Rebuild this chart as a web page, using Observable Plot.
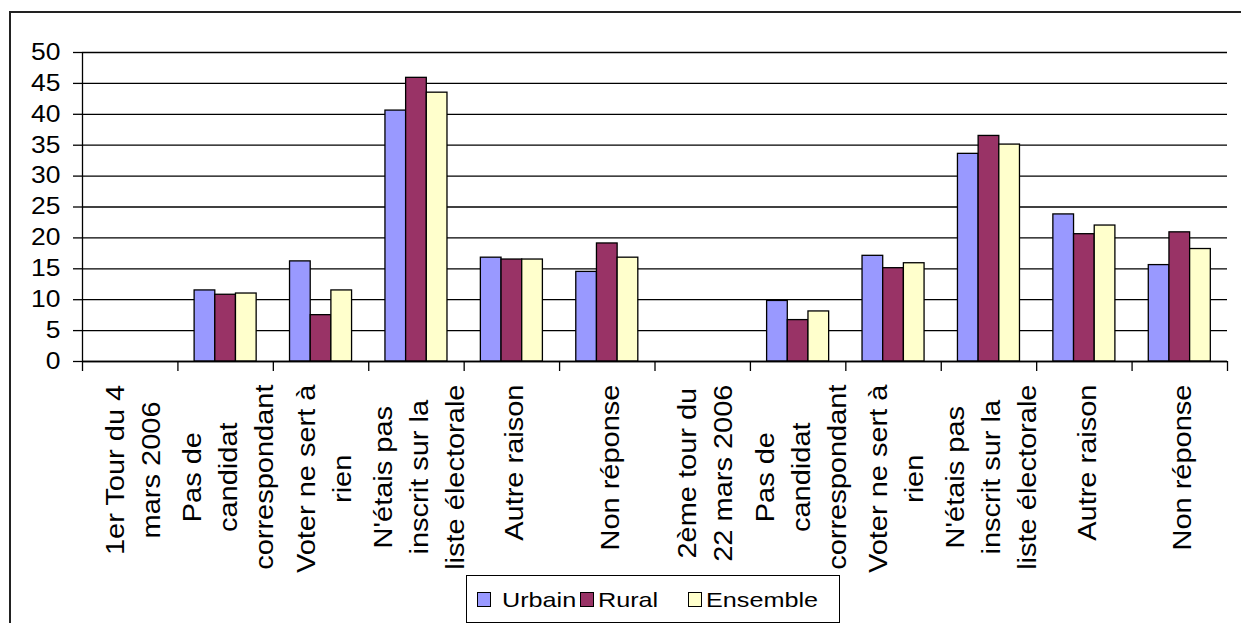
<!DOCTYPE html>
<html><head><meta charset="utf-8">
<script src="https://cdn.jsdelivr.net/npm/d3@7"></script>
<script src="https://cdn.jsdelivr.net/npm/@observablehq/plot@0.6"></script>
<style>
html,body{margin:0;padding:0;background:#fff;overflow:hidden}
#wrap{position:relative;width:1241px;height:623px;overflow:hidden;font-family:'Liberation Sans',Arial,sans-serif;background:#fff}
#frame{position:absolute;left:9px;top:11px;width:1400px;height:800px;border-left:2px solid #222;border-top:2px solid #222}
#chart{position:absolute;left:0;top:0}
#legend{position:absolute;left:466px;top:575px;width:374px;height:48px;border:1.5px solid #000;box-sizing:border-box;background:#fff}
.sw{position:absolute;width:14px;height:15px;border:1.5px solid #000;box-sizing:border-box}
.lt{position:absolute;font-size:21px;line-height:21px;color:#000;transform:scaleX(1.2);transform-origin:0 50%;white-space:nowrap}
</style></head><body>
<div id="wrap"><div id="frame"></div><div id="chart"></div><div id="legend"></div></div>
<script>
const categories = [
  "1er Tour du 4\nmars 2006",
  "Pas de\ncandidat\ncorrespondant",
  "Voter ne sert à\nrien",
  "N'étais pas\ninscrit sur la\nliste électorale",
  "Autre raison",
  "Non réponse",
  "2ème tour du\n22 mars 2006",
  "Pas de\ncandidat\ncorrespondant",
  "Voter ne sert à\nrien",
  "N'étais pas\ninscrit sur la\nliste électorale",
  "Autre raison",
  "Non réponse"
];
const seriesNames = ["Urbain", "Rural", "Ensemble"];
const seriesColors = ["#9999FF", "#993366", "#FFFFCC"];
const urbain   = [null, 11.5, 16.2, 40.6, 16.8, 14.5, null, 9.8, 17.1, 33.6, 23.8, 15.6];
const rural    = [null, 10.8,  7.5, 45.9, 16.5, 19.1, null, 6.7, 15.1, 36.5, 20.6, 20.9];
const ensemble = [null, 11.0, 11.5, 43.5, 16.5, 16.8, null, 8.1, 15.9, 35.1, 22.0, 18.2];
const yTicks = [0, 5, 10, 15, 20, 25, 30, 35, 40, 45, 50];

const seriesValues = [urbain, rural, ensemble];
const rows = [];
categories.forEach((c, i) => {
  seriesValues.forEach((vals, s) => {
    if (vals[i] != null) rows.push({i, s, series: seriesNames[s], value: vals[i]});
  });
});

const PAD = 0.175, BW = 0.2167;
const STRETCH = 1.16;
const LABEL_FS = 25;

// measure label widths
const ctx = document.createElement("canvas").getContext("2d");
ctx.font = `${LABEL_FS}px 'Liberation Sans'`;
const labelLen = categories.map(c => Math.max(...c.split("\n").map(l => ctx.measureText(l).width)) * STRETCH);

const labelMarks = categories.map((c, i) =>
  Plot.text([c], {
    x: () => i + 0.5, y: () => 0, text: d => d,
    rotate: -90, textAnchor: "middle", lineAnchor: "middle", lineHeight: 1.44,
    fontSize: LABEL_FS, fill: "black", dy: 23 + labelLen[i] / 2, className: "catlabel"
  })
);

const chart = Plot.plot({
  width: 1241, height: 623,
  marginLeft: 82, marginRight: 14, marginTop: 52, marginBottom: 262,
  style: {fontFamily: "'Liberation Sans', Arial, sans-serif", background: "transparent", color: "black"},
  x: {domain: [0, 12], axis: null},
  y: {domain: [0, 50], axis: null},
  color: {domain: seriesNames, range: seriesColors},
  marks: [
    Plot.gridY({ticks: yTicks, stroke: "black", strokeOpacity: 1, strokeWidth: 1.3}),
    Plot.rect(rows, {
      x1: d => d.i + PAD + d.s * BW, x2: d => d.i + PAD + (d.s + 1) * BW,
      y1: 0, y2: "value", fill: "series", stroke: "black", strokeWidth: 1.3
    }),
    Plot.axisY({ticks: yTicks, tickSize: 9, tickPadding: 13, fontSize: 23, strokeWidth: 1.3, label: null, className: "ylab"}),
    Plot.axisX({ticks: d3.range(0, 13), tickSize: 10, tickFormat: () => "", strokeWidth: 1.3, label: null}),
    Plot.ruleX([0], {y1: 0, y2: 50, stroke: "black", strokeWidth: 1.3}),
    Plot.ruleY([0], {stroke: "black", strokeWidth: 1.3}),
    ...labelMarks
  ]
});
document.getElementById("chart").appendChild(chart);

// stretch text along its direction
d3.select(chart).selectAll("g.catlabel text").each(function() {
  const t = this.getAttribute("transform") || "";
  this.setAttribute("transform", t + ` scale(${STRETCH},1)`);
});
d3.select(chart).selectAll("g.ylab text").each(function() {
  const t = this.getAttribute("transform") || "";
  this.setAttribute("transform", t + ` scale(1.15,1)`);
});

// legend
const wrap = document.getElementById("wrap");
const swX = [477, 580, 688], txX = [502, 598, 706];
seriesNames.forEach((n, k) => {
  const sw = document.createElement("div");
  sw.className = "sw";
  sw.style.left = swX[k] + "px"; sw.style.top = "592px"; sw.style.background = seriesColors[k];
  wrap.appendChild(sw);
  const t = document.createElement("div");
  t.className = "lt"; t.textContent = n;
  t.style.left = txX[k] + "px"; t.style.top = "589px";
  wrap.appendChild(t);
});
</script>
</body></html>
